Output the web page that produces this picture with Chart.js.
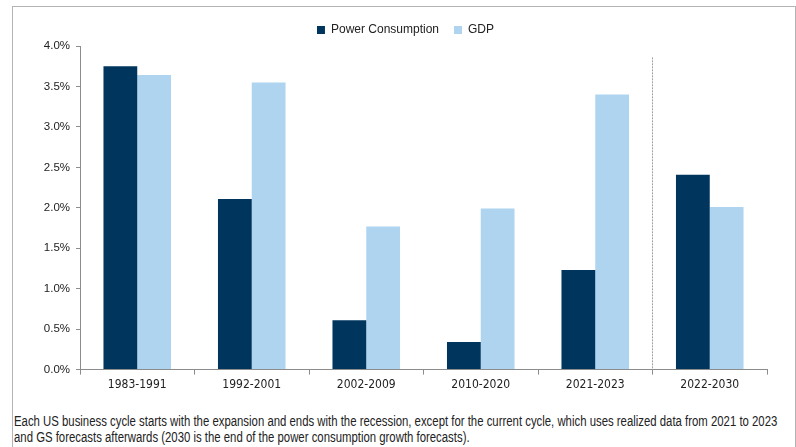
<!DOCTYPE html>
<html>
<head>
<meta charset="utf-8">
<script src="https://cdn.jsdelivr.net/npm/chart.js@4.4.1/dist/chart.umd.min.js"></script>
<style>
    html, body { margin: 0; padding: 0; background: #fff; }
    body { width: 796px; height: 447px; position: relative; overflow: hidden; }
    .frame {
        position: absolute; left: 12px; top: 6px; width: 782px; height: 460px;
        border-top: 1px solid #b4b4b4; border-left: 1px solid #b4b4b4; border-right: 1px solid #b4b4b4;
    }
    .chart-box { position: absolute; left: 0; top: 0; width: 796px; height: 395px; }
    .note {
        position: absolute; left: 14px; top: 414px; white-space: nowrap;
        font-family: 'Liberation Sans', Arial, sans-serif;
        font-size: 14px; line-height: 15.5px; color: #222;
        transform: scaleX(0.812); transform-origin: 0 0;
    }
</style>
</head>
<body>
<div class="frame"></div>
<div class="chart-box"><canvas id="cycleChart" width="796" height="395"></canvas></div>
<div class="note">Each US business cycle starts with the expansion and ends with the recession, except for the current cycle, which uses realized data from 2021 to 2023<br>and GS forecasts afterwards (2030 is the end of the power consumption growth forecasts).</div>

<script>
// Chu kỳ kinh tế và tăng trưởng bình quân năm (%)
const cycles = ['1983-1991', '1992-2001', '2002-2009', '2010-2020', '2021-2023', '2022-2030'];
const powerGrowth = [3.75, 2.11, 0.61, 0.34, 1.23, 2.41];
const gdpGrowth = [3.64, 3.55, 1.77, 1.99, 3.40, 2.01];
const yTicks = [0, 0.5, 1.0, 1.5, 2.0, 2.5, 3.0, 3.5, 4.0];

const AXIS_GREY = '#8c8c8c';

// Đường chấm phân cách giữa số liệu thực tế và dự báo
const forecastDivider = {
    id: 'forecastDivider',
    afterDatasetsDraw(chart) {
        const x = chart.scales.x;
        const y = chart.scales.y;
        const px = (x.getPixelForValue(4) + x.getPixelForValue(5)) / 2;
        const ctx = chart.ctx;
        ctx.save();
        ctx.strokeStyle = '#a0a0a0';
        ctx.lineWidth = 1;
        ctx.setLineDash([2, 1]);
        ctx.beginPath();
        ctx.moveTo(px, y.getPixelForValue(3.86));
        ctx.lineTo(px, y.getPixelForValue(0));
        ctx.stroke();
        ctx.restore();
    }
};

// Dời chú thích sang phải một chút cho cân với vùng vẽ
const legendShift = {
    id: 'legendShift',
    afterLayout(chart) {
        chart.legend.left += 22;
        chart.legend.right += 22;
    }
};

new Chart(document.getElementById('cycleChart'), {
    type: 'bar',
    data: {
        labels: cycles,
        datasets: [
            { label: 'Power Consumption', data: powerGrowth, backgroundColor: '#00355e' },
            { label: 'GDP', data: gdpGrowth, backgroundColor: '#aed4f0' }
        ]
    },
    options: {
        responsive: false,
        animation: false,
        layout: { padding: { left: 0, right: 29, top: 9, bottom: 0 } },
        datasets: { bar: { categoryPercentage: 0.59, barPercentage: 1.0 } },
        plugins: {
            legend: {
                position: 'top',
                labels: {
                    boxWidth: 8, boxHeight: 8, padding: 15,
                    color: '#222',
                    font: { family: 'Liberation Sans, Arial, sans-serif', size: 12 }
                }
            },
            tooltip: { enabled: false }
        },
        scales: {
            x: {
                grid: { display: true, drawOnChartArea: false, tickLength: 5, color: AXIS_GREY, offset: true },
                border: { color: AXIS_GREY, width: 1 },
                ticks: {
                    color: '#222', padding: 3,
                    font: { family: 'DejaVu Sans Condensed, sans-serif', size: 12 }
                }
            },
            y: {
                min: 0, max: 4,
                afterBuildTicks(scale) { scale.ticks = yTicks.map(v => ({ value: v })); },
                afterFit(scale) { scale.width = 80; },
                grid: { display: true, drawOnChartArea: false, tickLength: 4, color: AXIS_GREY },
                border: { color: AXIS_GREY, width: 1 },
                ticks: {
                    color: '#222', padding: 6,
                    font: { family: 'Liberation Sans, Arial, sans-serif', size: 11.5 },
                    callback: v => v.toFixed(1) + '%'
                }
            }
        }
    },
    plugins: [forecastDivider, legendShift]
});
</script>
</body>
</html>
